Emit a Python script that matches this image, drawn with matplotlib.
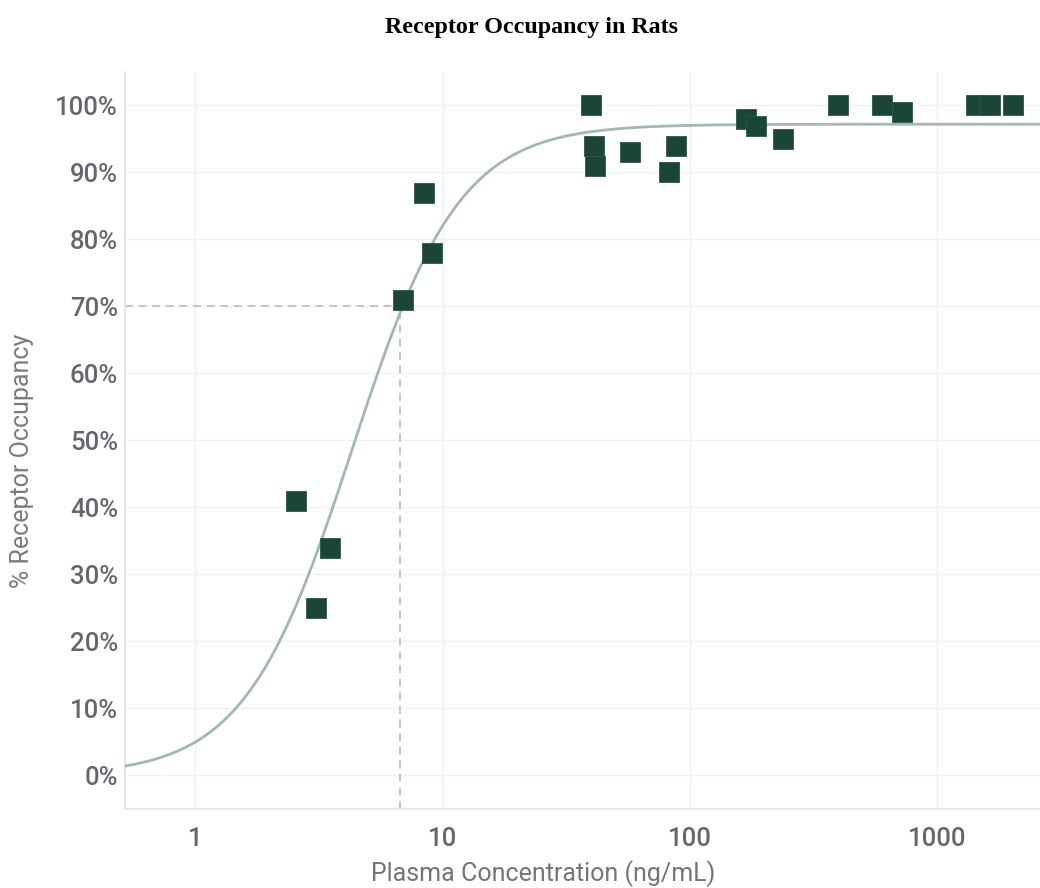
import numpy as np
import matplotlib
matplotlib.use("Agg")
import matplotlib.pyplot as plt
from matplotlib.ticker import FixedLocator, FuncFormatter

# plasma concentration (ng/mL) and receptor occupancy (%)
conc = [2.56, 3.09, 3.49, 6.9, 8.37, 9.1,
        39.7, 40.9, 41.3, 57.1, 82.2, 87.7,
        169, 185, 238, 398, 599, 722,
        1430, 1640, 2030]
occupancy = [41, 25, 34, 71, 87, 78,
             100, 94, 91, 93, 90, 94,
             98, 97, 95, 100, 100, 99,
             100, 100, 100]

# fitted Hill curve parameters
fit_top = 97.2
fit_ec50 = 4.3
fit_hill = 2.0

# reference line (70% occupancy)
ref_occ = 70
ref_conc = 6.75

x_ticks = [1, 10, 100, 1000]
y_ticks = list(range(0, 101, 10))

tick_col = "#66666e"
grid_col = "#f1f1f4"
marker_col = "#1b4537"
curve_col = "#a3b8ae"

plt.rcParams['font.family'] = ['Roboto', 'DejaVu Sans']

fig = plt.figure(figsize=(10.4, 8.88), dpi=100)
ax = fig.add_axes([0.1202, 0.089, 0.8798, 0.830])

ax.set_xscale("log")
ax.set_xlim(0.52, 2600)
ax.set_ylim(-5, 105)

xs = np.logspace(np.log10(0.52), np.log10(2600), 400)
ys = fit_top * xs ** fit_hill / (fit_ec50 ** fit_hill + xs ** fit_hill)
ax.plot(xs, ys, color=curve_col, lw=2, zorder=3)

ax.plot([0.52, ref_conc], [ref_occ, ref_occ], ls=(0, (4, 3)), color="#c4c4ca", lw=1.4, zorder=2)
ax.plot([ref_conc, ref_conc], [-5, ref_occ], ls=(0, (4, 3)), color="#c4c4ca", lw=1.4, zorder=2)

ax.scatter(conc, occupancy, marker="s", s=190, color=marker_col,
           edgecolors="#2c5647", linewidths=0.6, zorder=4)

ax.xaxis.set_major_locator(FixedLocator(x_ticks))
ax.xaxis.set_minor_locator(FixedLocator([]))
ax.xaxis.set_major_formatter(FuncFormatter(lambda v, p: "%d" % v))
ax.set_yticks(y_ticks)
ax.yaxis.set_major_formatter(FuncFormatter(lambda v, p: "%d%%" % v))

ax.grid(True, color=grid_col, lw=1)
ax.set_axisbelow(True)
ax.tick_params(length=0, labelsize=18.5, labelcolor=tick_col)
ax.tick_params(axis="x", pad=13)
ax.tick_params(axis="y", pad=5)
for lbl in ax.get_xticklabels() + ax.get_yticklabels():
    lbl.set_fontweight("medium")

for side in ["top", "right"]:
    ax.spines[side].set_visible(False)
for side in ["left", "bottom"]:
    ax.spines[side].set_color("#dfe2ea")
    ax.spines[side].set_linewidth(1.2)

ax.set_xlabel("Plasma Concentration (ng/mL)", fontsize=18, color="#74747c", va="center")
ax.xaxis.set_label_coords(0.457, -0.087)
ax.set_ylabel("% Receptor Occupancy", fontsize=18, color="#7a7a82", va="center")
ax.yaxis.set_label_coords(-0.113, 0.472)

fig.text(0.5106, 0.969, "Receptor Occupancy in Rats", ha="center", va="center",
         fontsize=17.3, fontweight="bold", family=["Liberation Serif"])

fig.savefig("out.png", dpi=100)
